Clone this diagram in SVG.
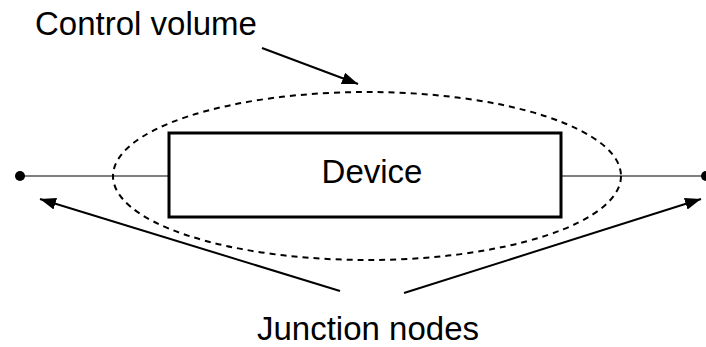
<svg xmlns="http://www.w3.org/2000/svg" width="706" height="347" viewBox="0 0 706 347">
<defs>
<marker id="ah" viewBox="0 0 16 12" refX="16" refY="6" markerWidth="16" markerHeight="12" markerUnits="userSpaceOnUse" orient="auto">
<path d="M0,0 L16,6 L0,12 z" fill="#000"/>
</marker>
<style>
text{font-family:"Liberation Sans",Arial,sans-serif;font-size:33px;fill:#000}
.ln{stroke:#000;fill:none}
</style>
</defs>
<rect width="706" height="347" fill="#fff"/>
<g id="control-volume">
<ellipse cx="367" cy="176" rx="254" ry="84" fill="none" stroke="#000" stroke-width="2" stroke-dasharray="6,5"/>
</g>
<g id="connectors">
<line class="ln" x1="20" y1="176" x2="169" y2="176" stroke-width="1.2"/>
<line class="ln" x1="561" y1="176" x2="706" y2="176" stroke-width="1.2"/>
<line class="ln" x1="262" y1="48" x2="358" y2="84" stroke-width="2" marker-end="url(#ah)"/>
<line class="ln" x1="340" y1="291" x2="40" y2="199" stroke-width="2" marker-end="url(#ah)"/>
<line class="ln" x1="404" y1="293" x2="701" y2="199" stroke-width="2" marker-end="url(#ah)"/>
</g>
<g id="device">
<rect x="169" y="133" width="392" height="84" fill="#fff" stroke="#000" stroke-width="3"/>
<text x="372" y="183" text-anchor="middle">Device</text>
</g>
<g id="junction-left"><circle cx="20" cy="176" r="5" fill="#000"/></g>
<g id="junction-right"><circle cx="706" cy="176" r="5" fill="#000"/></g>
<text x="35" y="35">Control volume</text>
<text x="368" y="340" text-anchor="middle">Junction nodes</text>
</svg>
